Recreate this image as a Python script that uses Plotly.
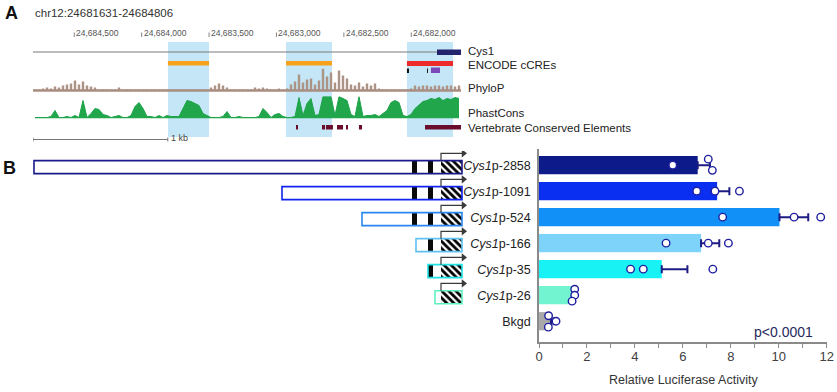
import plotly.graph_objects as go
import numpy as np

W, H = 837, 392
def fx(px): return px / W
def fy(py): return 1 - py / H

FONT = "Liberation Sans, Arial, sans-serif"

# ---------------- Panel A data (genome browser) ----------------
region_start, region_end = 24684806, 24681631
genome_ticks = [24684500, 24684000, 24683500, 24683000, 24682500, 24682000]
highlight_regions = [(24683805, 24683500), (24682929, 24682588), (24682032, 24681690)]
gene_line = (24684806, 24681809)
gene_exon = (24681809, 24681631)
ccre_orange = [(24683805, 24683500), (24682929, 24682588)]
ccre_red = [(24682032, 24681690)]
ccre_black = [(24682032, 24682017), (24681883, 24681876)]
ccre_purple = [(24681854, 24681787)]
conserved_elements = [(24682855, 24682840), (24682662, 24682640), (24682633, 24682581),
                      (24682551, 24682506), (24682484, 24682469), (24682388, 24682365),
                      (24681898, 24681631)]
phylop = [0.5,0.5,2,3,2,4,3,5,6,7,
          10,6,9,5,4,3,1,1,0.5,0.5,
          1,3,1,0.5,0.5,0.5,0.5,1,0.5,0.5,
          1,0.5,0.5,1,0.5,0.5,0.5,0.5,0.5,0.5,
          0.5,0.5,0.5,0.5,3,5,7,5,3,1,
          1,0.5,1,0.5,1,3,2,3,2,1,
          1,2,1,2,6,9,16,8,11,12,
          6,10,22,14,18,8,20,15,12,6,
          5,8,4,7,5,7,2,1,0.5,1,
          0.5,0.5,0.5,0.5,2,5,4,5,5,4,
          5,5,4,5,5,4,5]
phastcons = [1,1,1,1,2,8,1,1,2,1,
             3,1,18,1,5,10,9,4,3,1,
             2,3,1,1,3,12,16,10,2,2,
             1,3,1,3,2,2,2,10,18,17,
             15,13,5,3,1,1,1,2,7,1,
             1,2,1,1,1,1,2,10,6,1,
             4,5,2,1,1,2,21,3,15,20,
             3,4,22,22,22,3,22,20,18,4,
             2,22,2,3,3,4,2,5,8,16,
             18,16,3,2,4,10,14,17,18,20,
             19,21,18,20,19,21,20]

# ---------------- Panel B data ----------------
labels = ['<i>Cys1</i>p-2858', '<i>Cys1</i>p-1091', '<i>Cys1</i>p-524', '<i>Cys1</i>p-166',
          '<i>Cys1</i>p-35', '<i>Cys1</i>p-26', 'Bkgd']
means = [6.62, 7.43, 10.03, 6.76, 5.12, 1.42, 0.50]
err_up = [0.51, 0.51, 1.20, 0.76, 1.07, 0.04, 0.10]
points = [[5.58, 7.06, 7.23], [6.58, 7.34, 8.36], [7.66, 10.64, 11.75], [5.30, 7.06, 7.90],
          [3.82, 4.35, 7.25], [1.49, 1.49, 1.38], [0.40, 0.71, 0.39]]
point_jitter = [[0, -0.23, 0.2], [0, 0, 0], [0, 0, 0], [0, 0, 0], [0, 0, 0],
                [-0.23, 0, 0.23], [-0.21, 0, 0.23]]
bar_colors = ['#0c1a8a', '#0b2ff0', '#1190f8', '#7dd3fa', '#18f2f4', '#72f4d0', '#a9a9a9']

construct_start = [-428, -180, -100, -46, -34, -27]
outline_colors = ['#1a1a8c', '#1024ee', '#2a86f2', '#5fc2f2', '#22e2e4', '#5ff0c2']
element_rows = [0, 0, 1, 1, 2, 2, 3, 4]
element_start = [-50, -34, -50, -34, -50, -34, -34, -34]
element_len = [5, 5, 5, 5, 5, 5, 5, 5]
hatch_start, hatch_len = -21, 21

fig = go.Figure()

# ---- Panel A traces ----
bin_bp = (region_start - region_end) / len(phastcons)
centers = region_start - (np.arange(len(phastcons)) + 0.5) * bin_bp
fig.add_trace(go.Bar(x=centers, y=phylop, width=bin_bp * 0.6,
                     marker=dict(color='#ab9385', line=dict(width=0)),
                     xaxis='x', yaxis='y', hoverinfo='skip'))
fig.add_trace(go.Scatter(x=centers, y=phastcons, mode='lines',
                         line=dict(color='#1ea34a', width=1), fill='tozeroy',
                         fillcolor='#22a64c', xaxis='x', yaxis='y2', hoverinfo='skip'))

shapes = []
for a, b in highlight_regions:
    shapes.append(dict(type='rect', xref='x', yref='paper', x0=a, x1=b, y0=fy(137), y1=fy(42),
                       fillcolor='#c4e6f7', line=dict(width=0), layer='below'))
shapes.append(dict(type='line', xref='x', yref='paper', x0=gene_line[0], x1=gene_line[1],
                   y0=fy(52), y1=fy(52), line=dict(color='#7a7a7a', width=1.2)))
shapes.append(dict(type='rect', xref='x', yref='paper', x0=gene_exon[0], x1=gene_exon[1],
                   y0=fy(55), y1=fy(49.5), fillcolor='#23236e', line=dict(width=0)))
for a, b in ccre_orange:
    shapes.append(dict(type='rect', xref='x', yref='paper', x0=a, x1=b, y0=fy(65.5), y1=fy(61),
                       fillcolor='#f7a21b', line=dict(width=0)))
for a, b in ccre_red:
    shapes.append(dict(type='rect', xref='x', yref='paper', x0=a, x1=b, y0=fy(66), y1=fy(61),
                       fillcolor='#ee2b2b', line=dict(width=0)))
for a, b in ccre_black:
    shapes.append(dict(type='rect', xref='x', yref='paper', x0=a, x1=b, y0=fy(73), y1=fy(68.5),
                       fillcolor='#111111', line=dict(width=0)))
for a, b in ccre_purple:
    shapes.append(dict(type='rect', xref='x', yref='paper', x0=a, x1=b, y0=fy(73), y1=fy(67.5),
                       fillcolor='#7a48b8', line=dict(width=0)))
for a, b in conserved_elements:
    shapes.append(dict(type='rect', xref='x', yref='paper', x0=a, x1=b, y0=fy(129.5), y1=fy(125),
                       fillcolor='#6b0d2c', line=dict(width=0)))
shapes.append(dict(type='line', xref='x', yref='y', x0=region_start, x1=region_end, y0=0, y1=0,
                   line=dict(color='#a98e80', width=2.5)))
sb0, sb1 = region_start, region_start - 1000
shapes.append(dict(type='line', xref='x', yref='paper', x0=sb0, x1=sb1, y0=fy(139.5), y1=fy(139.5),
                   line=dict(color='#777', width=1)))
for s in (sb0, sb1):
    shapes.append(dict(type='line', xref='x', yref='paper', x0=s, x1=s, y0=fy(137.5), y1=fy(141.5),
                       line=dict(color='#777', width=1)))
for t in genome_ticks:
    shapes.append(dict(type='line', xref='x', yref='paper', x0=t, x1=t, y0=fy(37), y1=fy(32.5),
                       line=dict(color='#666', width=0.8)))

annotations = []
for t in genome_ticks:
    annotations.append(dict(x=t, y=fy(33), xref='x', yref='paper', text=f"{t:,}", showarrow=False,
                            xanchor='left', yanchor='middle', xshift=0,
                            font=dict(size=8.5, color='#555', family=FONT)))
annotations.append(dict(x=fx(169), y=fy(138), xref='paper', yref='paper', text='1 kb', showarrow=False,
                        xanchor='left', yanchor='middle', font=dict(size=9, color='#444', family=FONT)))
for txt, py in [('Cys1', 51), ('ENCODE cCREs', 65.5), ('PhyloP', 88.3), ('PhastCons', 112.5),
                ('Vertebrate Conserved Elements', 127.7)]:
    annotations.append(dict(x=fx(466), y=fy(py), xref='paper', yref='paper', text=txt, showarrow=False,
                            xanchor='left', yanchor='middle', font=dict(size=11.5, color='#222', family=FONT)))
annotations.append(dict(x=fx(33), y=fy(13), xref='paper', yref='paper', text='chr12:24681631-24684806',
                        showarrow=False, xanchor='left', yanchor='middle',
                        font=dict(size=11.5, color='#333', family=FONT)))
annotations.append(dict(x=fx(3), y=fy(13), xref='paper', yref='paper', text='<b>A</b>', showarrow=False,
                        xanchor='left', yanchor='middle', font=dict(size=18, color='#111', family=FONT)))
annotations.append(dict(x=fx(1), y=fy(168), xref='paper', yref='paper', text='<b>B</b>', showarrow=False,
                        xanchor='left', yanchor='middle', font=dict(size=18, color='#111', family=FONT)))
annotations.append(dict(x=fx(783), y=fy(332), xref='paper', yref='paper', text='p<0.0001', showarrow=False,
                        xanchor='center', yanchor='middle', font=dict(size=14, color='#1f2a5c', family=FONT)))
annotations.append(dict(x=fx(683), y=fy(380), xref='paper', yref='paper',
                        text='Relative Luciferase Activity', showarrow=False,
                        xanchor='center', yanchor='middle', font=dict(size=12.5, color='#333', family=FONT)))

rows_c = list(range(len(construct_start)))
lengths = [-s for s in construct_start]
fig.add_trace(go.Bar(y=rows_c, x=lengths, base=construct_start, orientation='h', width=0.5,
                     marker=dict(color='white', line=dict(width=0)), xaxis='x3', yaxis='y4',
                     hoverinfo='skip'))
fig.add_trace(go.Bar(y=element_rows, x=element_len, base=element_start, orientation='h', width=0.5,
                     marker=dict(color='#0a0a0a', line=dict(width=0)), xaxis='x3', yaxis='y4',
                     hoverinfo='skip'))
fig.add_trace(go.Bar(y=rows_c, x=[hatch_len] * len(rows_c), base=[hatch_start] * len(rows_c),
                     orientation='h', width=0.5,
                     marker=dict(color='white', line=dict(width=0),
                                 pattern=dict(shape='\\', fgcolor='#000000', bgcolor='white',
                                              fgopacity=1, size=5, solidity=0.55)),
                     xaxis='x3', yaxis='y4', hoverinfo='skip'))
fig.add_trace(go.Bar(y=rows_c, x=lengths, base=construct_start, orientation='h', width=0.5,
                     marker=dict(color='rgba(0,0,0,0)', line=dict(width=1.6, color=outline_colors)),
                     xaxis='x3', yaxis='y4', hoverinfo='skip'))
ax, ay = [], []
for r in rows_c:
    ax += [hatch_start, hatch_start, 0, None]
    ay += [r - 0.25, r - 0.53, r - 0.53, None]
fig.add_trace(go.Scatter(x=ax, y=ay, mode='lines', line=dict(color='#3a3a3a', width=1.2),
                         xaxis='x3', yaxis='y4', hoverinfo='skip'))
fig.add_trace(go.Scatter(x=[1.5] * len(rows_c), y=[r - 0.53 for r in rows_c], mode='markers',
                         marker=dict(symbol='triangle-right', size=7, color='#3a3a3a'),
                         xaxis='x3', yaxis='y4', hoverinfo='skip'))

rows = list(range(len(means)))
fig.add_trace(go.Bar(y=rows, x=means, orientation='h', width=0.7,
                     marker=dict(color=bar_colors, line=dict(width=0)),
                     error_x=dict(type='data', array=err_up, arrayminus=[0] * len(means),
                                  symmetric=False, color='#1c1c84', thickness=2, width=4),
                     xaxis='x2', yaxis='y3', hoverinfo='skip'))
px_, py_ = [], []
for r, (pts, jit) in enumerate(zip(points, point_jitter)):
    for v, j in zip(pts, jit):
        px_.append(v)
        py_.append(r + j)
fig.add_trace(go.Scatter(x=px_, y=py_, mode='markers',
                         marker=dict(symbol='circle', size=7.5, color='white',
                                     line=dict(color='#1f1fa0', width=1.4)),
                         xaxis='x2', yaxis='y3', hoverinfo='skip'))

fig.update_layout(
    width=W, height=H, margin=dict(l=0, r=0, t=0, b=0, autoexpand=False),
    paper_bgcolor='white', plot_bgcolor='rgba(0,0,0,0)',
    showlegend=False, barmode='overlay',
    font=dict(family=FONT),
    shapes=shapes, annotations=annotations,
    xaxis=dict(domain=[fx(33), fx(461)], range=[region_start, region_end], visible=False,
               anchor='y'),
    yaxis=dict(domain=[fy(92), fy(68.5)], range=[-1.5, 22], visible=False, anchor='x'),
    yaxis2=dict(domain=[fy(118.5), fy(96.5)], range=[0, 22], visible=False, anchor='x'),
    xaxis2=dict(domain=[fx(539), fx(826.7)], range=[0, 12], anchor='y3',
                showline=True, linecolor='#8a8a8a', linewidth=1.5, showgrid=False, zeroline=False,
                ticks='outside', ticklen=4, tickcolor='#8a8a8a', tickwidth=1, dtick=2,
                minor=dict(dtick=1, ticks='outside', ticklen=4, tickcolor='#8a8a8a'),
                ticklabelstandoff=-2,
                tickfont=dict(size=13, color='#404040', family=FONT)),
    yaxis3=dict(domain=[fy(342), fy(149)], range=[6.8, -0.62], anchor='x2',
                tickvals=rows, ticktext=labels, showline=True, linecolor='#8a8a8a', linewidth=1.5,
                showgrid=False, zeroline=False, ticks='', ticklabelstandoff=4,
                tickfont=dict(size=12.5, color='#222', family=FONT)),
    xaxis3=dict(domain=[fx(33), fx(467)], range=[-429, 5], visible=False, anchor='y4'),
    yaxis4=dict(domain=[fy(344), fy(151)], range=[6.8, -0.62], visible=False, anchor='x3'),
)

fig.write_html("out.html", config={'displayModeBar': False},
               post_script="document.body.style.margin='0';document.body.style.overflow='hidden';")
